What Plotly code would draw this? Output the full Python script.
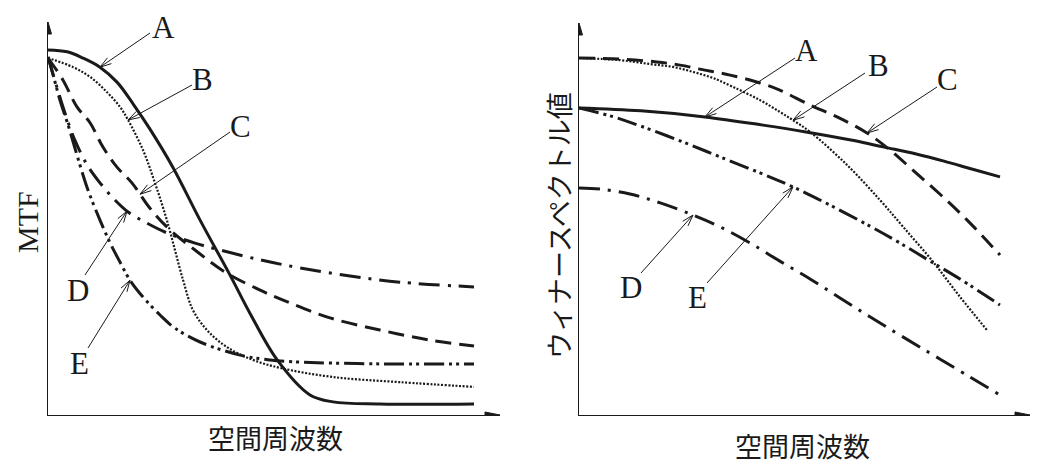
import numpy as np
import plotly.graph_objects as go

# ---------------- data (normalized values) ----------------
curve_names = ["A", "B", "C", "D", "E"]

# Left panel: MTF vs spatial frequency (x: 0..1, y: MTF relative)
mtf_a_x = [0, 0.045, 0.082, 0.122, 0.162, 0.200, 0.239, 0.293, 0.357, 0.427, 0.474, 0.538, 0.615, 0.669, 0.779, 1.0]
mtf_a_y = [1.0, 0.995, 0.978, 0.953, 0.912, 0.852, 0.784, 0.679, 0.534, 0.384, 0.279, 0.151, 0.055, 0.036, 0.030, 0.030]

mtf_b_x = [0, 0.059, 0.099, 0.138, 0.169, 0.188, 0.223, 0.251, 0.279, 0.317, 0.340, 0.373, 0.420, 0.481, 0.545, 0.669, 0.826, 1.0]
mtf_b_y = [0.978, 0.953, 0.926, 0.885, 0.844, 0.808, 0.726, 0.636, 0.534, 0.370, 0.288, 0.233, 0.186, 0.151, 0.129, 0.104, 0.090, 0.077]

mtf_c_x = [0, 0.035, 0.068, 0.099, 0.129, 0.162, 0.197, 0.239, 0.282, 0.345, 0.415, 0.498, 0.568, 0.662, 0.779, 0.897, 1.0]
mtf_c_y = [0.978, 0.918, 0.844, 0.800, 0.734, 0.679, 0.636, 0.567, 0.512, 0.452, 0.392, 0.342, 0.307, 0.266, 0.233, 0.205, 0.189]

mtf_d_x = [0, 0.009, 0.023, 0.040, 0.063, 0.092, 0.122, 0.157, 0.188, 0.232, 0.279, 0.345, 0.404, 0.498, 0.592, 0.709, 0.826, 1.0]
mtf_d_y = [0.981, 0.945, 0.890, 0.827, 0.753, 0.685, 0.636, 0.589, 0.556, 0.526, 0.499, 0.471, 0.452, 0.425, 0.403, 0.381, 0.364, 0.351]

mtf_e_x = [0, 0.012, 0.028, 0.047, 0.075, 0.094, 0.122, 0.146, 0.169, 0.192, 0.223, 0.263, 0.298, 0.357, 0.451, 0.521, 0.592, 0.779, 1.0]
mtf_e_y = [0.981, 0.932, 0.863, 0.795, 0.685, 0.616, 0.534, 0.471, 0.419, 0.370, 0.323, 0.274, 0.238, 0.200, 0.164, 0.151, 0.145, 0.140, 0.140]

# Right panel: Wiener spectrum vs spatial frequency
ws_a_x = [0, 0.147, 0.299, 0.437, 0.539, 0.656, 0.722, 0.801, 0.867, 0.933, 1.0]
ws_a_y = [0.860, 0.852, 0.835, 0.812, 0.793, 0.768, 0.751, 0.731, 0.711, 0.689, 0.667]

ws_b_x = [0, 0.097, 0.169, 0.223, 0.271, 0.318, 0.366, 0.430, 0.477, 0.508, 0.549, 0.637, 0.715, 0.770, 0.841, 0.905, 0.969]
ws_b_y = [1.0, 0.994, 0.983, 0.975, 0.961, 0.944, 0.919, 0.882, 0.849, 0.826, 0.793, 0.700, 0.602, 0.527, 0.429, 0.331, 0.238]

ws_c_x = [0, 0.097, 0.185, 0.240, 0.299, 0.359, 0.430, 0.477, 0.549, 0.613, 0.684, 0.739, 0.793, 0.857, 0.922, 1.0]
ws_c_y = [1.0, 0.997, 0.989, 0.980, 0.966, 0.952, 0.930, 0.910, 0.868, 0.835, 0.790, 0.742, 0.686, 0.619, 0.546, 0.448]

ws_d_x = [0, 0.050, 0.121, 0.193, 0.271, 0.335, 0.406, 0.477, 0.549, 0.620, 0.691, 0.762, 0.857, 1.0]
ws_d_y = [0.636, 0.633, 0.619, 0.594, 0.560, 0.527, 0.482, 0.431, 0.381, 0.328, 0.275, 0.224, 0.157, 0.056]

ws_e_x = [0, 0.074, 0.145, 0.240, 0.335, 0.430, 0.508, 0.596, 0.691, 0.762, 0.834, 0.905, 1.0]
ws_e_y = [0.860, 0.838, 0.810, 0.768, 0.723, 0.678, 0.639, 0.588, 0.529, 0.482, 0.431, 0.381, 0.308]

left_x_title = "空間周波数"
left_y_title = "MTF"
right_x_title = "空間周波数"
right_y_title = "ウィナースペクトル値"

# ---------------- layout geometry (pixels) ----------------
W, H = 1050, 474
INK = "#1a1a1a"
SERIF = "Liberation Serif"
CJK = "Noto Sans CJK JP"

PANELS = {
    "L": dict(x0=48, x1=474, y0=415, y1=50, xtip=500, ytip=22, xa="x", ya="y"),
    "R": dict(x0=579, x1=1000, y0=415, y1=58, xtip=1030, ytip=23, xa="x2", ya="y2"),
}

def sx(p):
    return p["x1"] - p["x0"]

def sy(p):
    return p["y0"] - p["y1"]

def px2data(p, px, py):
    return (px - p["x0"]) / sx(p), (p["y0"] - py) / sy(p)

STYLES = {
    "A": dict(width=3, dash="solid"),
    "B": dict(width=2.2, dash="2px,1.6px"),
    "C": dict(width=3, dash="16px,8px"),
    "D": dict(width=3, dash="21px,8px,3px,8px"),
    "E": dict(width=3, dash="20px,5px,3px,4px,3px,5px"),
}

left_series = {"A": (mtf_a_x, mtf_a_y), "B": (mtf_b_x, mtf_b_y), "C": (mtf_c_x, mtf_c_y),
               "D": (mtf_d_x, mtf_d_y), "E": (mtf_e_x, mtf_e_y)}
right_series = {"A": (ws_a_x, ws_a_y), "B": (ws_b_x, ws_b_y), "C": (ws_c_x, ws_c_y),
                "D": (ws_d_x, ws_d_y), "E": (ws_e_x, ws_e_y)}

fig = go.Figure()

for key, series in (("L", left_series), ("R", right_series)):
    p = PANELS[key]
    for name in curve_names:
        xs, ys = series[name]
        st = STYLES[name]
        fig.add_trace(go.Scatter(
            x=xs, y=ys, mode="lines", name=name, showlegend=False,
            line=dict(color=INK, width=st["width"], dash=st["dash"], shape="spline", smoothing=1.0),
            xaxis=p["xa"], yaxis=p["ya"], hoverinfo="skip",
        ))

shapes = []
annotations = []

# axis arrowheads
for key in ("L", "R"):
    p = PANELS[key]
    xr, yr = p["xa"], p["ya"]
    xmax = (p["xtip"] - p["x0"]) / sx(p)
    ymax = (p["y0"] - p["ytip"]) / sy(p)
    shapes.append(dict(type="path", xref=xr, yref=yr, xsizemode="pixel", ysizemode="pixel",
                       xanchor=xmax, yanchor=0, path="M 0 0 L -15 3 L -15 -3 Z",
                       fillcolor=INK, line=dict(color=INK, width=1)))
    shapes.append(dict(type="path", xref=xr, yref=yr, xsizemode="pixel", ysizemode="pixel",
                       xanchor=0, yanchor=ymax, path="M 0 0 L -3.5 -12 L 3.5 -12 Z",
                       fillcolor=INK, line=dict(color=INK, width=1)))

# label callouts: (label, label center px, arrow tail px, arrow tip x px on the curve)
callouts = {
    "L": [("A", (163, 28), (150, 33), 100), ("B", (202, 80), (192, 85), 128),
          ("C", (240, 127), (230, 132), 140), ("D", (78, 290), (85, 275), 127),
          ("E", (79, 363), (88, 348), 130)],
    "R": [("A", (806, 50), (795, 58), 705), ("B", (878, 65), (865, 73), 793),
          ("C", (948, 80), (937, 87), 867), ("D", (631, 287), (641, 273), 693),
          ("E", (697, 297), (707, 283), 793)],
}

HEAD_LEN = 12
HEAD_ANG = np.deg2rad(17)

for key, series in (("L", left_series), ("R", right_series)):
    p = PANELS[key]
    xr, yr = p["xa"], p["ya"]
    for name, lab, tail, tipx_px in callouts[key]:
        xs, ys = series[name]
        tx = (tipx_px - p["x0"]) / sx(p)
        ty = float(np.interp(tx, xs, ys))
        ax_, ay_ = px2data(p, tail[0], tail[1])
        shapes.append(dict(type="line", xref=xr, yref=yr, x0=ax_, y0=ay_, x1=tx, y1=ty,
                           line=dict(color=INK, width=1)))
        dx = (tx - ax_) * sx(p)
        dy = (ty - ay_) * sy(p)
        n = np.hypot(dx, dy)
        ux, uy = dx / n, dy / n
        pts = []
        for s in (1, -1):
            c, si = np.cos(s * HEAD_ANG), np.sin(s * HEAD_ANG)
            rx, ry = ux * c - uy * si, ux * si + uy * c
            pts.append((-HEAD_LEN * rx, -HEAD_LEN * ry))
        path = "M {:.2f} {:.2f} L 0 0 L {:.2f} {:.2f}".format(pts[0][0], pts[0][1], pts[1][0], pts[1][1])
        shapes.append(dict(type="path", xref=xr, yref=yr, xsizemode="pixel", ysizemode="pixel",
                           xanchor=tx, yanchor=ty, path=path, fillcolor="rgba(0,0,0,0)",
                           line=dict(color=INK, width=1)))
        annotations.append(dict(text=name, x=lab[0] / W, y=1 - lab[1] / H, xref="paper", yref="paper",
                                xanchor="center", yanchor="middle", showarrow=False,
                                font=dict(family=SERIF, size=31, color=INK)))

# axis titles
titles = [
    dict(text=left_y_title, x=27 / W, y=1 - 222 / H, textangle=-90, font=dict(family=SERIF, size=30, color=INK)),
    dict(text=left_x_title, x=275 / W, y=1 - 437 / H, font=dict(family=CJK, size=27, color=INK)),
    dict(text=right_x_title, x=802 / W, y=1 - 445 / H, font=dict(family=CJK, size=27, color=INK)),
    dict(text=right_y_title, x=559 / W, y=1 - 226 / H, textangle=-90, font=dict(family=CJK, size=27, color=INK)),
]
for a in titles:
    a.update(xref="paper", yref="paper", xanchor="center", yanchor="middle", showarrow=False)
annotations += titles

def axis(p, horiz):
    if horiz:
        dom = [p["x0"] / W, p["xtip"] / W]
        rng = [0, (p["xtip"] - p["x0"]) / sx(p)]
    else:
        dom = [(H - p["y0"]) / H, (H - p["ytip"]) / H]
        rng = [0, (p["y0"] - p["ytip"]) / sy(p)]
    return dict(domain=dom, range=rng, showline=True, linecolor=INK, linewidth=1,
                showgrid=False, zeroline=False, showticklabels=False, ticks="", fixedrange=True)

fig.update_layout(
    width=W, height=H, margin=dict(l=0, r=0, t=0, b=0),
    paper_bgcolor="white", plot_bgcolor="white", showlegend=False,
    xaxis=dict(**axis(PANELS["L"], True), anchor="y"),
    yaxis=dict(**axis(PANELS["L"], False), anchor="x"),
    xaxis2=dict(**axis(PANELS["R"], True), anchor="y2"),
    yaxis2=dict(**axis(PANELS["R"], False), anchor="x2"),
    shapes=shapes, annotations=annotations,
)

fig.write_html("out.html")
